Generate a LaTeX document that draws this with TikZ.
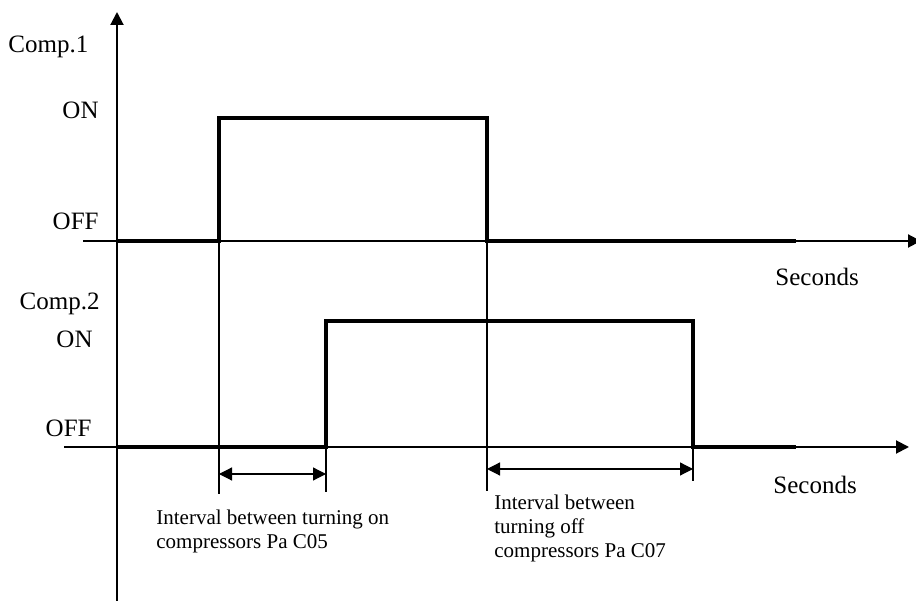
\documentclass[tikz,border=0pt]{standalone}
\usepackage{fontspec}
\setmainfont{Liberation Serif}
\usetikzlibrary{arrows.meta}

\begin{document}
\begin{tikzpicture}[x=0.5pt,y=-0.5pt,>={Triangle[length=6.5pt,width=6.5pt]},
                    font=\fontsize{12.5}{15}\selectfont,
                    axis/.style={->,line width=1pt},
                    signal/.style={line width=2pt},
                    guide/.style={line width=1.2pt},
                    span/.style={<->,line width=0.6pt},
                    lbl/.style={inner sep=0pt},
                    note/.style={inner sep=0pt,align=left,
                                 font=\fontsize{10.5}{12}\selectfont}]

  \useasboundingbox (0,0) rectangle (916,603);

  % axes
  \coordinate (ybot) at (117,601);
  \coordinate (ytop) at (117,12);
  \coordinate (x1s)  at (83,241);
  \coordinate (x1e)  at (921,241);
  \coordinate (x2s)  at (64,447);
  \coordinate (x2e)  at (909,447);

  % levels and switching times
  \coordinate (off1) at (117,241);
  \coordinate (on1)  at (117,118);
  \coordinate (off2) at (117,447);
  \coordinate (on2)  at (117,321);
  \coordinate (t1)   at (219,0);
  \coordinate (t2)   at (326,0);
  \coordinate (t3)   at (487,0);
  \coordinate (t4)   at (693,0);
  \coordinate (tend) at (796,0);

  % guide ends and interval spans
  \coordinate (g1) at (219,494);
  \coordinate (g2) at (326,492);
  \coordinate (g3) at (487,491);
  \coordinate (g4) at (693,481);
  \coordinate (sa) at (219,474);
  \coordinate (sb) at (326,474);
  \coordinate (sc) at (487,469);
  \coordinate (sd) at (693,469);

  \node[lbl,anchor=base west] (comp1) at (8,53)    {Comp.1};
  \node[lbl,anchor=base east] (on1l)  at (99,119)  {ON};
  \node[lbl,anchor=base east] (off1l) at (99,230)  {OFF};
  \node[lbl,anchor=base west] (sec1)  at (775,286) {Seconds};
  \node[lbl,anchor=base east] (comp2) at (100,310) {Comp.2};
  \node[lbl,anchor=base east] (on2l)  at (93,348)  {ON};
  \node[lbl,anchor=base east] (off2l) at (92,437)  {OFF};
  \node[lbl,anchor=base west] (sec2)  at (773,494) {Seconds};

  % base is the last line here
  \node[note,anchor=base west] (ivon)  at (156,549)
        {Interval between turning on\\compressors Pa C05};
  \node[note,anchor=base west] (ivoff) at (494,558)
        {Interval between\\turning off\\compressors Pa C07};

  \draw[axis] (ybot) -- (ytop);
  \draw[axis] (x1s) -- (x1e);
  \draw[axis] (x2s) -- (x2e);

  \draw[guide] (t1 |- off1) -- (g1);
  \draw[guide] (t3 |- off1) -- (g3);
  \draw[guide] (t2 |- off2) -- (g2);
  \draw[guide] (t4 |- off2) -- (g4);

  \draw[signal] (off1) -- (t1 |- off1) -- (t1 |- on1) -- (t3 |- on1)
                       -- (t3 |- off1) -- (tend |- off1);
  \draw[signal] (off2) -- (t2 |- off2) -- (t2 |- on2) -- (t4 |- on2)
                       -- (t4 |- off2) -- (tend |- off2);

  \draw[span] (sa) -- (sb);
  \draw[span] (sc) -- (sd);
\end{tikzpicture}
\end{document}
